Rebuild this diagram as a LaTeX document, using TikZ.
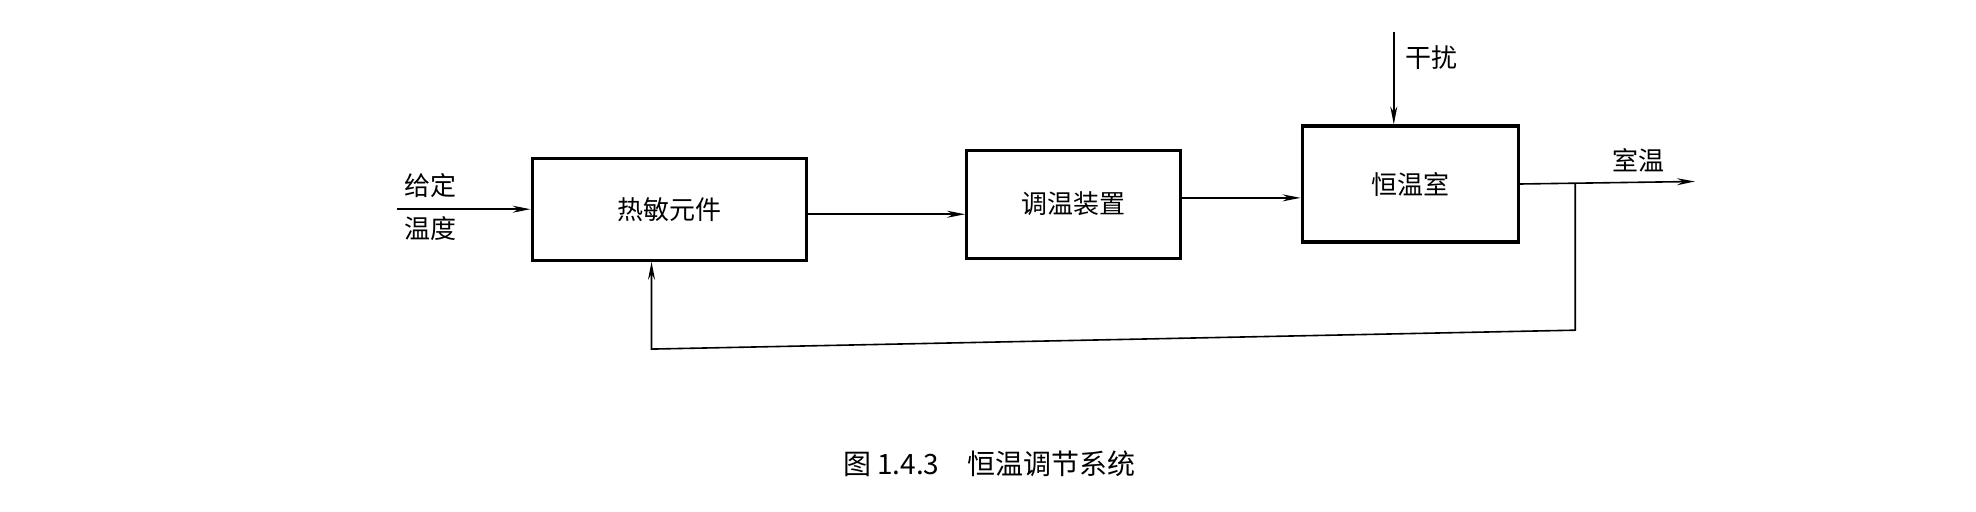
\documentclass[tikz,border=0pt]{standalone}
\usepackage{fontspec}
\newfontfamily\cjk{Noto Sans CJK SC}
\usetikzlibrary{arrows.meta}
\begin{document}
\begin{tikzpicture}[x=0.63pt,y=-0.63pt,
  blk/.style={draw,line width=1.6pt,font=\cjk\fontsize{13}{15}\selectfont},
  lbl/.style={font=\cjk\fontsize{13}{15}\selectfont},
  con/.style={line width=0.8pt,-{Stealth[length=9pt,width=3.5pt]}}]
\useasboundingbox[fill=white] (0,0) rectangle (1568,406);
\node[blk,minimum width=137pt,minimum height=51pt] (b1) at (531,166) {热敏元件};
\node[blk,minimum width=107pt,minimum height=54pt] (b2) at (852,162) {调温装置};
\node[blk,minimum width=108pt,minimum height=58pt] (b3) at (1119,146) {恒温室};
\coordinate (in) at (315,166);
\node[lbl] (l1) at (342,147) {给定};
\node[lbl] (l2) at (342,181) {温度};
\draw[con] (in) -- (b1.west);
\draw[con] (b1.east |- 0,170) -- (b2.west |- 0,170);
\draw[con] (b2.east |- 0,157) -- (b3.west |- 0,157);
\coordinate (out) at (1345,144);
\coordinate (br) at (1250,146);
\draw[con] (b3.east |- 0,146) -- (out);
\node[lbl] (l3) at (1300,127) {室温};
\coordinate (top) at (1106,25);
\draw[con] (top) -- (b3.north -| top);
\node[lbl] (l4) at (1136,46) {干扰};
\coordinate (c1) at (1250,262);
\coordinate (c2) at (517,277);
\draw[con] (br) -- (c1) -- (c2) -- (b1.south -| c2);
\node[font=\cjk\fontsize{14}{16}\selectfont] (cap) at (785,368) {图 1.4.3\quad 恒温调节系统};
\end{tikzpicture}
\end{document}
